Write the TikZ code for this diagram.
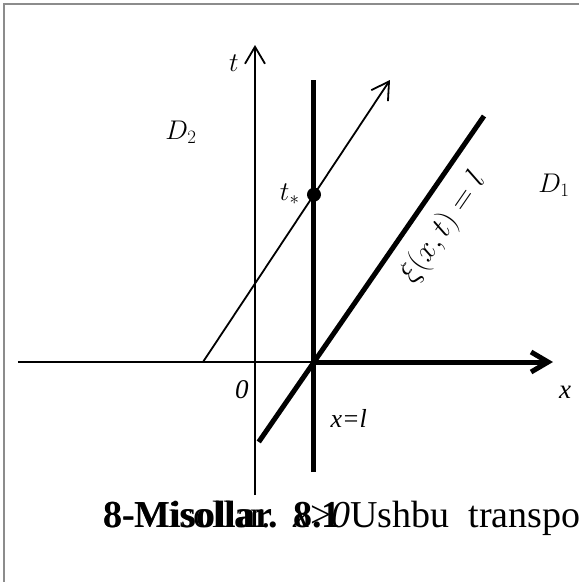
\RequirePackage{fix-cm}
\documentclass[tikz,border=0pt]{standalone}
\usepackage{fontspec}
\setmainfont{Liberation Serif}
\usetikzlibrary{calc,arrows.meta}

\begin{document}
\begin{tikzpicture}[x=50pt, y=50pt,
    thinline/.style={line width=1.8pt},
    thickline/.style={line width=5pt},
    barb/.style={-{Straight Barb[length=17pt,width=20pt]}},
    lbl/.style={font=\fontsize{27}{32}\selectfont},
    axlbl/.style={font=\fontsize{27}{32}\selectfont\itshape},
    captext/.style={font=\fontsize{38}{44}\selectfont, anchor=base west, inner sep=0pt}]
      \useasboundingbox (-5.1,-4.4) rectangle (6.48,7.24);

      % Frame (only top and left are seen)
      \draw[black!45, line width=1.5pt] (6.48,7.16) -- (-5.02,7.16) -- (-5.02,-4.4);

      % Points
      \coordinate (O) at (0,0);
      \coordinate (L) at (1.18,0);
      \coordinate (Xend) at (-4.74,0);
      \coordinate (Xtip) at (5.96,0);
      \coordinate (Tbot) at (0,-2.66);
      \coordinate (Ttip) at (0,6.34);
      \coordinate (Lbot) at (1.18,-2.2);
      \coordinate (Ltop) at (1.18,5.64);
      \coordinate (S) at (-1.04,0);
      \coordinate (Stip) at (2.7,5.64);
      \coordinate (Ctop) at (4.58,4.92);
      \coordinate (Cbot) at ($(L)!-0.325!(Ctop)$);
      \coordinate (P) at (intersection of S--Stip and Lbot--Ltop);

      % Axes
      \draw[thinline, barb] (Tbot) -- (Ttip);
      \draw[thinline] (Xend) -- (L);
      \draw[thickline, barb] (L) -- (Xtip);

      % Line x=l
      \draw[thickline] (Lbot) -- (Ltop);

      % Characteristic through (l,t_*)
      \draw[thinline, barb] (S) -- (Stip);

      % Curve xi(x,t)=l
      \draw[thickline] (Cbot) -- (Ctop)
        node[pos=0.71, sloped, below=9pt, lbl, font=\fontsize{31}{36}\selectfont] (xi) {$\xi(x,t)=l$};

      % Point t_*
      \fill (P) circle (7pt);
      \node[lbl, left=11pt] (ts) at (P) {$t_*$};

      % Labels
      \node[lbl] (tl) at (-0.42,5.98) {$t$};
      \node[lbl] (d2) at (-1.48,4.6) {$D_2$};
      \node[lbl] (d1) at (5.98,3.54) {$D_1$};
      \node[axlbl] (zero) at (-0.26,-0.56) {0};
      \node[axlbl] (xl) at (6.2,-0.6) {x};
      \node[axlbl, font=\fontsize{26}{30}\selectfont\itshape, anchor=west] (xeq) at (1.44,-1.12) {x=l};

      % Caption below (overlapping lines of text)
      \node[captext] (capA) at (-3.04,-3.3) {\bfseries 8-Misollar.};
      \node[captext] (capB) at (-3.04,-3.3) {8-Misollar.};
      \node[captext] (capC) at (0.76,-3.3) {\bfseries 8.1};
      \node[captext] (capD) at (0.76,-3.3) {\textit{x}>\textit{0}Ushbu\ \ transpo};

    \end{tikzpicture}
\end{document}
